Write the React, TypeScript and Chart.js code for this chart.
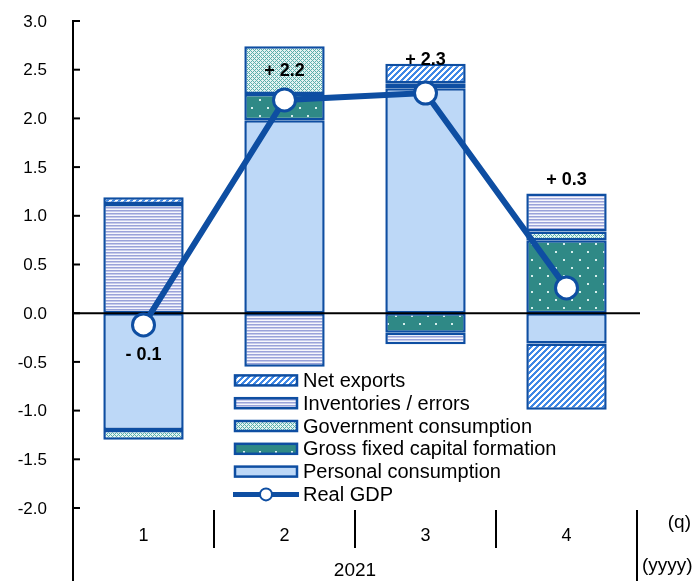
import React, { useEffect, useRef } from 'react';
import { Chart, registerables } from 'chart.js';

Chart.register(...registerables);

// Contributions to real GDP growth (percentage points), by quarter
const quarters = ['1', '2', '3', '4'];
const yearLabel = '2021';
const personalConsumption = [-1.2, 1.98, 2.31, -0.31];
const grossFixedCapital = [null, 0.27, -0.2, 0.75];
const governmentConsumption = [-0.1, 0.49, 0.05, 0.09];
const inventoriesErrors = [1.12, -0.55, -0.12, 0.39];
const netExports = [0.07, null, 0.2, -0.68];
const realGdp = [-0.12, 2.19, 2.26, 0.26];
const yTickValues = [3.0, 2.5, 2.0, 1.5, 1.0, 0.5, 0.0, -0.5, -1.0, -1.5, -2.0];

const FONT = '"Liberation Sans", Arial, sans-serif';
const DARK_BLUE = '#0E4EA2';

type Fill = string | CanvasPattern;

function makePattern(w: number, h: number, draw: (g: CanvasRenderingContext2D) => void): CanvasPattern {
  const c = document.createElement('canvas');
  c.width = w;
  c.height = h;
  const g = c.getContext('2d')!;
  draw(g);
  return g.createPattern(c, 'repeat')!;
}

function buildFills() {
  const netExportsFill = makePattern(6, 6, (g) => {
    g.fillStyle = '#ffffff';
    g.fillRect(0, 0, 6, 6);
    g.fillStyle = '#3F88E6';
    for (let px = 0; px < 6; px++) {
      for (let py = 0; py < 6; py++) {
        if ((px + py) % 6 < 3) g.fillRect(px, py, 1, 1);
      }
    }
  });
  const inventoriesFill = makePattern(4, 3, (g) => {
    g.fillStyle = '#9AA3D9';
    g.fillRect(0, 0, 4, 1);
    g.fillStyle = '#C6CBEB';
    g.fillRect(0, 1, 4, 1);
    g.fillStyle = '#F6F7FC';
    g.fillRect(0, 2, 4, 1);
  });
  const governmentFill = makePattern(4, 4, (g) => {
    g.fillStyle = '#E4F3F2';
    g.fillRect(0, 0, 4, 4);
    g.fillStyle = '#5AAFAB';
    for (let px = 0; px < 4; px++) {
      for (let py = 0; py < 4; py++) {
        if ((px + py) % 4 === 0 || (((px - py) % 4) + 4) % 4 === 0) g.fillRect(px, py, 1, 1);
      }
    }
  });
  const capitalFill = makePattern(16, 16, (g) => {
    g.fillStyle = '#2F8986';
    g.fillRect(0, 0, 16, 16);
    g.fillStyle = '#D6EEEC';
    g.fillRect(3, 3, 2, 2);
    g.fillRect(11, 11, 2, 2);
  });
  return {
    netExportsFill,
    inventoriesFill,
    governmentFill,
    capitalFill,
    personalFill: '#BDD8F7',
  };
}

function signedLabel(v: number): string {
  const sign = v < 0 ? '-' : '+';
  return `${sign} ${Math.abs(v).toFixed(1)}`;
}

export default function App() {
  const canvasRef = useRef<HTMLCanvasElement | null>(null);

  useEffect(() => {
    const canvas = canvasRef.current;
    if (!canvas) return;
    const fills = buildFills();

    const legendItems: { label: string; fill: Fill | null }[] = [
      { label: 'Net exports', fill: fills.netExportsFill },
      { label: 'Inventories / errors', fill: fills.inventoriesFill },
      { label: 'Government consumption', fill: fills.governmentFill },
      { label: 'Gross fixed capital formation', fill: fills.capitalFill },
      { label: 'Personal consumption', fill: fills.personalFill },
      { label: 'Real GDP', fill: null },
    ];

    // pixel offsets of the value labels from the GDP markers
    const labelOffsets = [30, -29, -33, -108];

    const frame = {
      id: 'frame',
      beforeDatasetDraw(chart: any, args: any) {
        if (args.meta.type !== 'line') return;
        const { ctx, chartArea: ca, scales } = chart;
        const y0 = scales.y.getPixelForValue(0);
        ctx.save();
        ctx.strokeStyle = '#000';
        ctx.lineWidth = 2;
        ctx.beginPath();
        ctx.moveTo(ca.left, y0);
        ctx.lineTo(ca.right + 3, y0);
        ctx.stroke();
        ctx.restore();
      },
      afterDraw(chart: any) {
        const { ctx, chartArea: ca, scales } = chart;
        const xs = scales.x;
        const ys = scales.y;
        ctx.save();

        // vertical axis and inward ticks
        ctx.strokeStyle = '#000';
        ctx.lineWidth = 2;
        ctx.beginPath();
        ctx.moveTo(ca.left, ca.top - 1);
        ctx.lineTo(ca.left, chart.height);
        ctx.stroke();
        ctx.font = `17px ${FONT}`;
        ctx.fillStyle = '#000';
        ctx.textAlign = 'right';
        ctx.textBaseline = 'middle';
        yTickValues.forEach((v) => {
          const py = ys.getPixelForValue(v);
          ctx.beginPath();
          ctx.moveTo(ca.left, py);
          ctx.lineTo(ca.left + 7, py);
          ctx.stroke();
          ctx.fillText(v.toFixed(1), ca.left - 26, py + 1);
        });

        // category separators below the plot
        for (let i = 1; i < quarters.length; i++) {
          const px = Math.round((xs.getPixelForValue(i - 1) + xs.getPixelForValue(i)) / 2);
          ctx.beginPath();
          ctx.moveTo(px, ca.bottom + 2);
          ctx.lineTo(px, ca.bottom + 40);
          ctx.stroke();
        }
        ctx.beginPath();
        ctx.moveTo(ca.right, ca.bottom + 2);
        ctx.lineTo(ca.right, chart.height);
        ctx.stroke();

        // category and year labels
        ctx.font = `18px ${FONT}`;
        ctx.textAlign = 'center';
        quarters.forEach((q, i) => {
          ctx.fillText(q, xs.getPixelForValue(i), ca.bottom + 28);
        });
        ctx.font = `19px ${FONT}`;
        ctx.fillText(yearLabel, (ca.left + ca.right) / 2, ca.bottom + 63);
        ctx.textAlign = 'right';
        ctx.fillText('(q)', chart.width - 9, ca.bottom + 15);
        ctx.textAlign = 'left';
        ctx.fillText('(yyyy)', ca.right + 5, ca.bottom + 58);

        // value labels for real GDP
        ctx.font = `bold 18px ${FONT}`;
        ctx.textAlign = 'center';
        realGdp.forEach((v, i) => {
          ctx.fillText(signedLabel(v), xs.getPixelForValue(i), ys.getPixelForValue(v) + labelOffsets[i]);
        });

        // legend
        const lx = ca.left + 162;
        const ly0 = ys.getPixelForValue(-0.69);
        const rowGap = 22.8;
        ctx.font = `20px ${FONT}`;
        ctx.textAlign = 'left';
        legendItems.forEach((item, k) => {
          const cy = ly0 + k * rowGap;
          if (item.fill) {
            ctx.fillStyle = item.fill;
            ctx.fillRect(lx, cy - 5, 62, 10);
            ctx.strokeStyle = DARK_BLUE;
            ctx.lineWidth = 2.5;
            ctx.strokeRect(lx, cy - 5, 62, 10);
          } else {
            ctx.strokeStyle = DARK_BLUE;
            ctx.lineWidth = 5;
            ctx.beginPath();
            ctx.moveTo(lx - 2, cy);
            ctx.lineTo(lx + 64, cy);
            ctx.stroke();
            ctx.beginPath();
            ctx.arc(lx + 31, cy, 6, 0, Math.PI * 2);
            ctx.fillStyle = '#fff';
            ctx.fill();
            ctx.lineWidth = 2;
            ctx.stroke();
          }
          ctx.fillStyle = '#000';
          ctx.fillText(item.label, lx + 68, cy + 1);
        });

        ctx.restore();
      },
    };

    const barCommon = {
      type: 'bar' as const,
      borderColor: DARK_BLUE,
      borderWidth: 2.5,
      borderSkipped: false,
      barPercentage: 0.57,
      categoryPercentage: 1,
      stack: 'parts',
      order: 1,
    };

    const chart = new Chart(canvas, {
      type: 'bar',
      data: {
        labels: quarters,
        datasets: [
          { ...barCommon, label: 'Personal consumption', data: personalConsumption, backgroundColor: fills.personalFill },
          { ...barCommon, label: 'Gross fixed capital formation', data: grossFixedCapital, backgroundColor: fills.capitalFill },
          { ...barCommon, label: 'Government consumption', data: governmentConsumption, backgroundColor: fills.governmentFill },
          { ...barCommon, label: 'Inventories / errors', data: inventoriesErrors, backgroundColor: fills.inventoriesFill },
          { ...barCommon, label: 'Net exports', data: netExports, backgroundColor: fills.netExportsFill },
          {
            type: 'line' as const,
            label: 'Real GDP',
            data: realGdp,
            borderColor: DARK_BLUE,
            borderWidth: 6,
            pointRadius: 11,
            pointBackgroundColor: '#ffffff',
            pointBorderColor: DARK_BLUE,
            pointBorderWidth: 3,
            tension: 0,
            stack: 'gdp',
            order: 0,
          },
        ] as any,
      },
      options: {
        animation: false,
        responsive: false,
        devicePixelRatio: 1,
        events: [],
        layout: { padding: { left: 73, right: 63, top: 21, bottom: 73 } },
        plugins: { legend: { display: false }, tooltip: { enabled: false } },
        scales: {
          x: { type: 'category', display: false, stacked: true, offset: true },
          y: { type: 'linear', display: false, stacked: true, min: -2, max: 3 },
        },
      },
      plugins: [frame],
    });

    return () => chart.destroy();
  }, []);

  return (
    <div style={{ position: 'fixed', left: 0, top: 0, width: 700, height: 581, background: '#fff' }}>
      <canvas ref={canvasRef} width={700} height={581} />
    </div>
  );
}
